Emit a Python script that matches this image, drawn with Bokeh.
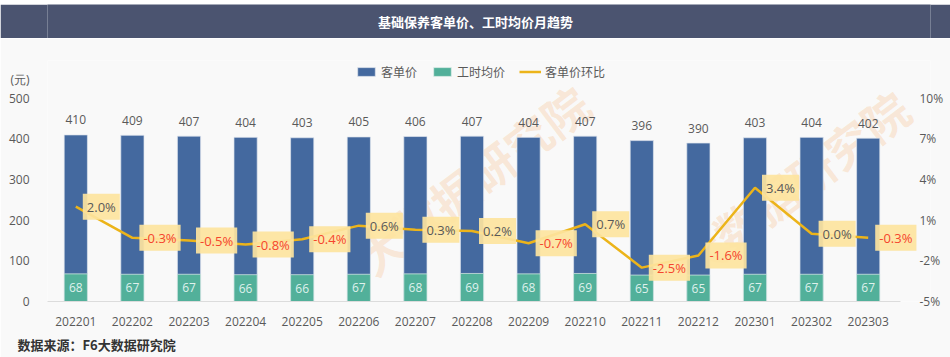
import numpy as np
from bokeh.plotting import figure
from bokeh.layouts import column
from bokeh.models import (Range1d, LinearAxis, FixedTicker, PrintfTickFormatter,
                          Legend, LegendItem, Label, Title, ColumnDataSource, Spacer)
from bokeh.core.properties import value
from bokeh.embed import file_html
from bokeh.resources import INLINE

# ---------------- data ----------------
months = ["202201", "202202", "202203", "202204", "202205", "202206", "202207", "202208",
          "202209", "202210", "202211", "202212", "202301", "202302", "202303"]
customer_price = [410, 409, 407, 404, 403, 405, 406, 407, 404, 407, 396, 390, 403, 404, 402]
labor_price = [68, 67, 67, 66, 66, 67, 68, 69, 68, 69, 65, 65, 67, 67, 67]
price_mom = [2.0, -0.3, -0.5, -0.8, -0.4, 0.6, 0.3, 0.2, -0.7, 0.7, -2.5, -1.6, 3.4, 0.0, -0.3]
left_ticks = [0, 100, 200, 300, 400, 500]
right_ticks = [-5, -2, 1, 4, 7, 10]

title_text = "基础保养客单价、工时均价月趋势"
source_text = "数据来源：F6大数据研究院"
unit_text = "(元)"
legend_names = ["客单价", "工时均价", "客单价环比"]
watermark_text = "大数据研究院"

BLUE = "#44699f"
GREEN = "#52b09a"
YELLOW = "#ecb41a"
BG = "#f9f9f9"
HEAD = "#4b5470"
TXT = "#595959"
RED = "#f5452d"
CJK = "Noto Sans CJK SC"
NUM = "Open Sans"

W = 950
BL, BR = 47, 20          # frame borders left / right

# ---------------- header ----------------
header = figure(width=W, height=34, x_range=Range1d(0, 1), y_range=Range1d(0, 1),
                output_backend="svg", toolbar_location=None,
                min_border_top=0, min_border_bottom=0, min_border_left=BL, min_border_right=BR,
                background_fill_color=HEAD, border_fill_color=HEAD)
header.axis.visible = False
header.grid.visible = False
header.outline_line_color = None
header.text(x=[(475 - BL) / (W - BL - BR)], y=[0.5], text=[title_text], text_color="white",
            text_font=value(CJK), text_font_size="13px", text_font_style="bold",
            text_align="center", text_baseline="middle")

# ---------------- main chart ----------------
idx = list(range(len(months)))
src = ColumnDataSource(dict(
    x=idx,
    price=customer_price,
    labor=labor_price,
    labor_mid=[v / 2 for v in labor_price],
    price_lbl=[str(v) for v in customer_price],
    labor_lbl=[str(v) for v in labor_price],
    mom=price_mom,
    mom_lbl=[f"{v:.1f}%" for v in price_mom],
    mom_col=[RED if v < 0 else TXT for v in price_mom],
))

# frame: x 47..930, y 60..302 (page); 500 sits at 98, -5..10% on the same span
y_top = 500 * (302 - 60) / (302 - 98)
pct_top = -5 + 15 * (302 - 60) / (302 - 98)
cat_w = 849 / 15
x_end = -0.5 + (W - BL - BR) / cat_w

p = figure(width=W, height=319, x_range=Range1d(-0.5, x_end),
           y_range=Range1d(0, y_top), output_backend="svg", toolbar_location=None,
           min_border_left=BL, min_border_right=BR, min_border_top=22, min_border_bottom=55,
           background_fill_color=BG, border_fill_color=BG)
p.extra_y_ranges = {"pct": Range1d(-5, pct_top)}
p.outline_line_color = None
p.grid.visible = False

# watermark
for (wx, wy) in [(425, 122), (745, 117)]:
    p.add_layout(Label(x=wx, y=wy, x_units="screen", y_units="screen", text=watermark_text,
                       angle=37, angle_units="deg", text_font=CJK, text_font_size="46px",
                       text_font_style="bold", text_color="#f59a4a", text_alpha=0.2,
                       text_align="center", text_baseline="middle", level="underlay"))

bars_price = p.vbar(x="x", top="price", width=0.41, source=src, fill_color=BLUE,
                    line_color="#dfe6ee", line_width=1, line_alpha=0.7)
bars_labor = p.vbar(x="x", top="labor", width=0.41, source=src, fill_color=GREEN,
                    line_color="#dfeee9", line_width=1, line_alpha=0.7)
mom_line = p.line(x="x", y="mom", source=src, y_range_name="pct", line_color=YELLOW,
                  line_width=2.5)

p.text(x="x", y="price", text="price_lbl", source=src, text_color=TXT,
       text_font=value(NUM), text_font_size="12px", text_align="center",
       text_baseline="middle", y_offset=-15)
p.text(x="x", y="labor_mid", text="labor_lbl", source=src, text_color="#dff1ec",
       text_font=value(NUM), text_font_size="12px", text_align="center",
       text_baseline="middle")
p.text(x="x", y="mom", text="mom_lbl", source=src, y_range_name="pct",
       text_color="mom_col", text_font=value(NUM), text_font_size="13px",
       text_align="left", text_baseline="middle", x_offset=7,
       background_fill_color="#fde49e", background_fill_alpha=0.92, padding=4)

# axes
xa = p.xaxis[0]
xa.ticker = FixedTicker(ticks=idx)
xa.major_label_overrides = {i: m for i, m in zip(idx, months)}
xa.bounds = (-0.5, -0.5 + (900 - BL) / cat_w)
xa.axis_line_color = "#dcdcdc"
xa.axis_line_width = 1
xa.major_tick_line_color = None
xa.minor_tick_line_color = None
xa.major_label_text_font = NUM
xa.major_label_text_font_size = "12px"
xa.major_label_text_color = TXT
xa.major_label_standoff = 9

unit_pos = 547
ya = p.yaxis[0]
ya.ticker = FixedTicker(ticks=left_ticks + [unit_pos])
ya.major_label_overrides = {unit_pos: unit_text}
ya.axis_line_color = None
ya.major_tick_line_color = None
ya.minor_tick_line_color = None
ya.major_label_text_font = NUM
ya.major_label_text_font_size = "12px"
ya.major_label_text_color = TXT
ya.major_label_standoff = 12

ra = LinearAxis(y_range_name="pct", ticker=FixedTicker(ticks=right_ticks),
                formatter=PrintfTickFormatter(format="%d%%"))
ra.axis_line_color = None
ra.major_tick_line_color = None
ra.minor_tick_line_color = None
ra.major_label_text_font = NUM
ra.major_label_text_font_size = "12px"
ra.major_label_text_color = TXT
ra.major_label_standoff = 913 - (W - BR)
p.add_layout(ra, "right")

# legend (inside the top strip of the frame)
legend = Legend(items=[LegendItem(label=legend_names[0], renderers=[bars_price]),
                       LegendItem(label=legend_names[1], renderers=[bars_labor]),
                       LegendItem(label=legend_names[2], renderers=[mom_line])],
                orientation="horizontal", location=(355 - BL, 302 - 81),
                background_fill_alpha=0, border_line_color=None,
                label_text_font=CJK, label_text_font_size="12px", label_text_color=TXT,
                glyph_width=22, glyph_height=11, label_standoff=4, spacing=14,
                padding=0, margin=0, label_height=16)
p.add_layout(legend)

p.add_layout(Title(text=source_text, align="left", offset=17 - BL, text_font=CJK,
                   text_font_size="13px", text_font_style="bold", text_color="#333333",
                   standoff=8), "below")

layout = column(Spacer(width=W, height=4), header, p, spacing=0)
open("out.html", "w").write(file_html(layout, INLINE))
